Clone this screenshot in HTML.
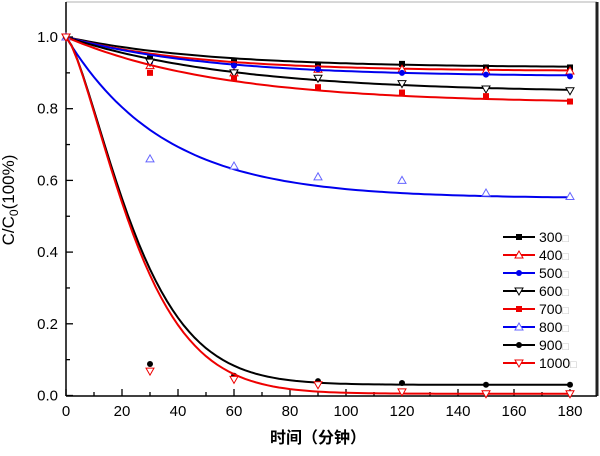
<!DOCTYPE html><html><head><meta charset="utf-8"><style>
body{margin:0;background:#fff}
svg text{font-family:"Liberation Sans","Noto Sans CJK SC",sans-serif}
</style></head><body>
<svg id="s" width="600" height="451" xmlns="http://www.w3.org/2000/svg">
<line x1="66" y1="2" x2="597" y2="2" stroke="#ccc" stroke-width="1.5"/>
<line x1="597" y1="2" x2="597" y2="396" stroke="#222" stroke-width="3"/>
<line x1="66" y1="2" x2="66" y2="396" stroke="#000" stroke-width="1.5"/>
<line x1="66" y1="396" x2="597" y2="396" stroke="#000" stroke-width="1.5"/>
<g id="g"></g>
<text x="14" y="200" font-size="17" text-anchor="middle" transform="rotate(-90 14 200)">C/C<tspan font-size="12" dy="4">0</tspan><tspan dy="-4">(100%)</tspan></text>
<text x="318" y="443" font-size="16" font-weight="bold" text-anchor="middle">时间（分钟）</text>
</svg>
<script>
var g=document.getElementById('g'),h='';
function X(v){return 66+v*2.8}function Y(v){return 395.5-v*358.5}
for(var i=0;i<=18;i++){var x=X(i*10),l=i%2?4:7;h+='<line x1="'+x+'" y1="396" x2="'+x+'" y2="'+(396-l)+'" stroke="#000" stroke-width="1.3"/>';if(i%2==0)h+='<text x="'+x+'" y="416" font-size="15" text-anchor="middle">'+i*10+'</text>';}
for(var i=0;i<=10;i++){var y=Y(i*0.1),l=i%2?4:7;h+='<line x1="66" y1="'+y+'" x2="'+(66+l)+'" y2="'+y+'" stroke="#000" stroke-width="1.3"/>';if(i%2==0)h+='<text x="58" y="'+(y+5)+'" font-size="15" text-anchor="end">'+(i/10).toFixed(1)+'</text>';}
var S=[
['#000','sq',.915,50,[1,.94,.93,.92,.925,.915,.915],1],
['#e00','tu',.905,45,[1,.92,.90,.91,.91,.905,.905],1],
['#00e','ci',.89,50,[1,.93,.92,.91,.90,.895,.89],1],
['#000','td',.845,60,[1,.93,.90,.885,.87,.855,.85],1],
['#e00','sq',.815,55,[1,.90,.885,.86,.845,.835,.82],1],
['#00e','tu',.55,35,[1,.66,.64,.61,.60,.565,.555],1],
['#000','ci',.03,28,[1,.088,.055,.04,.035,.03,.03],1.4],
['#e00','td',.005,28,[1,.068,.045,.03,.01,.005,.005],1.4]];
var names=['300','400','500','600','700','800','900','1000'];
function mk(t,x,y,c){var r=3;
if(t=='sq')return '<rect x="'+(x-r)+'" y="'+(y-r)+'" width="'+2*r+'" height="'+2*r+'" fill="'+c+'"/>';
if(t=='ci')return '<circle cx="'+x+'" cy="'+y+'" r="'+r+'" fill="'+c+'"/>';
if(t=='tu')return '<polygon points="'+x+','+(y-4)+' '+(x-4)+','+(y+3)+' '+(x+4)+','+(y+3)+'" fill="#fff" stroke="'+(c=='#00e'?'#66f':c)+'"/>';
return '<polygon points="'+x+','+(y+4)+' '+(x-4)+','+(y-3)+' '+(x+4)+','+(y-3)+'" fill="#fff" stroke="'+c+'"/>';}
S.forEach(function(s,k){var p='';for(var t=0;t<=180;t+=2){var v=s[2]+(1-s[2])*Math.exp(-Math.pow(t/s[3],s[5]));p+=(t?'L':'M')+X(t).toFixed(1)+','+Y(v).toFixed(1);}
h+='<path d="'+p+'" fill="none" stroke="'+s[0]+'" stroke-width="2"/>';
s[4].forEach(function(v,j){h+=mk(s[1],X(j*30),Y(v),s[0]);});
var ly=237+k*18;h+='<line x1="503" y1="'+ly+'" x2="535" y2="'+ly+'" stroke="'+s[0]+'" stroke-width="2"/>'+mk(s[1],519,ly,s[0])+'<text x="539" y="'+(ly+5)+'" font-size="14">'+names[k]+'<tspan fill="#bbb" font-size="11">□</tspan></text>';});
g.innerHTML=h;
</script></body></html>
